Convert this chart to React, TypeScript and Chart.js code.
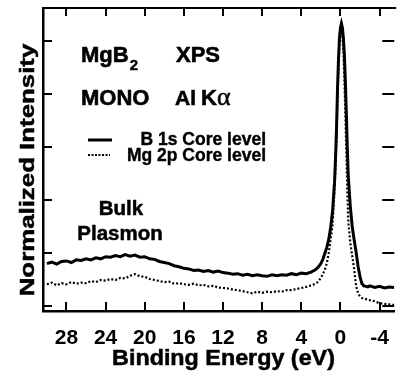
import React, { useEffect, useRef } from "react";
import { Chart, registerables } from "chart.js";
Chart.register(...registerables);

// Binding energy (eV) shared by both spectra
const energies = [
  30.0, 29.5, 29.0, 28.5, 28.0, 27.5, 27.0, 26.5, 26.0, 25.5,
  25.0, 24.5, 24.0, 23.5, 23.0, 22.5, 22.0, 21.5, 21.0, 20.5,
  20.0, 19.5, 19.0, 18.5, 18.0, 17.5, 17.0, 16.5, 16.0, 15.5,
  15.0, 14.5, 14.0, 13.5, 13.0, 12.5, 12.0, 11.5, 11.0, 10.5,
  10.0, 9.5, 9.0, 8.5, 8.0, 7.5, 7.0, 6.5, 6.0, 5.5,
  5.0, 4.5, 4.0, 3.5, 3.0,
  2.8, 2.6, 2.4, 2.2, 2.0, 1.8, 1.6, 1.4, 1.2, 1.0, 0.8,
  0.6, 0.5, 0.4, 0.3, 0.2, 0.1, 0.0, -0.1, -0.2, -0.3, -0.4, -0.5, -0.6, -0.7, -0.8,
  -1.0, -1.2, -1.4, -1.6, -1.8, -2.0, -2.2, -2.4, -2.6, -2.8,
  -3.0, -3.5, -4.0, -4.5, -5.0, -5.5,
];

// B 1s core level (normalized intensity)
const b1s = [
  0.80, 0.83, 0.79, 0.84, 0.85, 0.82, 0.87, 0.86, 0.89, 0.87,
  0.91, 0.89, 0.93, 0.92, 0.95, 0.93, 0.97, 0.94, 0.96, 0.92,
  0.93, 0.89, 0.88, 0.84, 0.82, 0.80, 0.76, 0.74, 0.71, 0.70,
  0.67, 0.68, 0.65, 0.67, 0.64, 0.66, 0.63, 0.62, 0.60, 0.61,
  0.58, 0.60, 0.57, 0.59, 0.57, 0.56, 0.59, 0.57, 0.59, 0.58,
  0.61, 0.59, 0.62, 0.61, 0.64,
  0.66, 0.68, 0.71, 0.75, 0.80, 0.88, 0.99, 1.10, 1.25, 1.48, 1.80,
  2.35, 2.80, 3.35, 4.10, 4.65, 5.05, 5.25, 5.33, 5.25, 5.05, 4.75, 4.25, 3.65, 3.00, 2.45,
  1.90, 1.50, 1.25, 1.02, 0.75, 0.55, 0.42, 0.38, 0.37, 0.36,
  0.38, 0.35, 0.37, 0.34, 0.36, 0.35,
];

// Mg 2p core level (normalized intensity)
const mg2p = [
  0.41, 0.44, 0.39, 0.43, 0.41, 0.45, 0.42, 0.44, 0.43, 0.47,
  0.45, 0.49, 0.48, 0.51, 0.49, 0.53, 0.52, 0.57, 0.60, 0.56,
  0.55, 0.51, 0.49, 0.47, 0.45, 0.46, 0.42, 0.43, 0.41, 0.40,
  0.42, 0.39, 0.40, 0.37, 0.38, 0.35, 0.34, 0.33, 0.31, 0.30,
  0.28, 0.26, 0.24, 0.27, 0.25, 0.27, 0.26, 0.28, 0.27, 0.30,
  0.30, 0.32, 0.34, 0.36, 0.39,
  0.40, 0.42, 0.44, 0.48, 0.53, 0.60, 0.68, 0.80, 1.00, 1.25, 1.55,
  2.20, 2.65, 3.20, 3.90, 4.50, 4.95, 5.18, 5.22, 5.10, 4.80, 4.30, 3.60, 2.90, 2.20, 1.60,
  1.20, 0.95, 0.70, 0.38, 0.24, 0.18, 0.15, 0.14, 0.13, 0.12,
  0.11, 0.09, 0.05, 0.04, 0.03, 0.02,
];

const xTicks = [28, 24, 20, 16, 12, 8, 4, 0, -4];
const yTicks = [0, 1, 2, 3, 4, 5];

const SANS = "'Liberation Sans', Arial, Helvetica, sans-serif";
const SERIF = "'Liberation Serif', 'Times New Roman', serif";

function boldText(ctx: any, s: string, x: number, y: number, w = 0.6) {
  ctx.fillText(s, x, y);
  ctx.lineWidth = w;
  ctx.strokeText(s, x, y);
}

const decor = {
  id: "decor",
  afterDraw(chart: any) {
    const { ctx, chartArea: a, scales } = chart;
    const xs = scales.x;
    const ys = scales.y;
    ctx.save();
    ctx.strokeStyle = "#000";
    ctx.fillStyle = "#000";
    ctx.lineWidth = 2;
    // top frame
    ctx.beginPath();
    ctx.moveTo(a.left - 1, a.top);
    ctx.lineTo(a.right + 2, a.top);
    ctx.stroke();
    // inward ticks
    for (const v of xTicks) {
      const px = Math.round(xs.getPixelForValue(v));
      ctx.beginPath();
      ctx.moveTo(px, a.bottom);
      ctx.lineTo(px, a.bottom - 9);
      ctx.moveTo(px, a.top);
      ctx.lineTo(px, a.top + 8);
      ctx.stroke();
    }
    for (const v of yTicks) {
      const py = Math.round(ys.getPixelForValue(v));
      ctx.beginPath();
      ctx.moveTo(a.left, py);
      ctx.lineTo(a.left + 9, py);
      ctx.moveTo(a.right, py);
      ctx.lineTo(a.right - 12, py);
      ctx.stroke();
    }

    // axis titles
    ctx.textBaseline = "alphabetic";
    ctx.textAlign = "center";
    ctx.font = `bold 22px ${SANS}`;
    ctx.save();
    ctx.translate(223.5, 365);
    ctx.scale(1.06, 1);
    boldText(ctx, "Binding Energy (eV)", 0, 0, 0.5);
    ctx.restore();

    ctx.save();
    ctx.translate(34, 170);
    ctx.rotate(-Math.PI / 2);
    ctx.font = `bold 21px ${SANS}`;
    ctx.scale(1.23, 1);
    boldText(ctx, "Normalized Intensity", 0, 0, 0.5);
    ctx.restore();

    // annotations
    ctx.textAlign = "left";
    ctx.font = `bold 22px ${SANS}`;
    boldText(ctx, "MgB", 81, 62);
    const wMgB = ctx.measureText("MgB").width;
    ctx.font = `bold 15px ${SANS}`;
    boldText(ctx, "2", 81 + wMgB + 1, 70, 0.4);
    ctx.font = `bold 22px ${SANS}`;
    boldText(ctx, "XPS", 176, 62);
    boldText(ctx, "MONO", 81, 105);
    ctx.font = `bold 21px ${SANS}`;
    boldText(ctx, "Al", 175, 105);
    ctx.font = `bold 22px ${SANS}`;
    boldText(ctx, "K", 201, 105);
    const wK = ctx.measureText("K").width;
    ctx.font = `26px ${SERIF}`;
    boldText(ctx, "\u03b1", 201 + wK, 105, 0.5);

    // legend
    ctx.font = `bold 17.5px ${SANS}`;
    ctx.textAlign = "right";
    boldText(ctx, "B 1s Core level", 266, 145, 0.4);
    boldText(ctx, "Mg 2p Core level", 266, 161, 0.4);
    ctx.lineWidth = 3;
    ctx.beginPath();
    ctx.moveTo(88, 140);
    ctx.lineTo(112, 140);
    ctx.stroke();
    ctx.lineWidth = 2;
    ctx.setLineDash([2, 1.5]);
    ctx.beginPath();
    ctx.moveTo(88, 155);
    ctx.lineTo(110, 155);
    ctx.stroke();
    ctx.setLineDash([]);

    // plasmon label
    ctx.textAlign = "center";
    ctx.font = `bold 20.5px ${SANS}`;
    boldText(ctx, "Bulk", 121, 215, 0.5);
    boldText(ctx, "Plasmon", 120, 240, 0.5);
    ctx.restore();
  },
};

export default function App() {
  const ref = useRef<HTMLCanvasElement | null>(null);
  useEffect(() => {
    if (!ref.current) return;
    const chart = new Chart(ref.current, {
      type: "line",
      data: {
        datasets: [
          {
            label: "B 1s Core level",
            data: energies.map((e, i) => ({ x: e, y: b1s[i] })),
            borderColor: "#000",
            borderWidth: 3,
            pointRadius: 0,
            tension: 0,
          },
          {
            label: "Mg 2p Core level",
            data: energies.map((e, i) => ({ x: e, y: mg2p[i] })),
            borderColor: "#000",
            borderWidth: 2.2,
            borderDash: [2, 2],
            pointRadius: 0,
            tension: 0,
          },
        ],
      },
      plugins: [decor],
      options: {
        animation: false,
        responsive: false,
        maintainAspectRatio: false,
        layout: { padding: { top: 8, right: 2, left: 0, bottom: 0 } },
        plugins: { legend: { display: false }, tooltip: { enabled: false } },
        scales: {
          x: {
            type: "linear",
            reverse: true,
            min: -5.5,
            max: 30.4,
            afterFit: (s: any) => {
              s.height = 61;
            },
            afterBuildTicks: (s: any) => {
              s.ticks = xTicks.map((v) => ({ value: v }));
            },
            border: { display: true, color: "#000", width: 2.5 },
            grid: { display: false, drawTicks: false },
            ticks: {
              color: "#000",
              font: { family: SANS, size: 21, weight: "bold" },
              padding: 15,
              autoSkip: false,
              maxRotation: 0,
              callback: (v: any) => String(v),
            },
          },
          y: {
            type: "linear",
            min: -0.094,
            max: 5.62,
            afterFit: (s: any) => {
              s.width = 43;
            },
            border: { display: true, color: "#000", width: 2.5 },
            grid: { display: false, drawTicks: false },
            ticks: { display: false },
          },
        },
      },
    });
    return () => chart.destroy();
  }, []);
  return (
    <div style={{ position: "absolute", left: 0, top: 0, width: 400, height: 372, overflow: "hidden", background: "#fff" }}>
      <canvas ref={ref} width={404} height={372} style={{ width: 404, height: 372, display: "block" }} />
    </div>
  );
}
